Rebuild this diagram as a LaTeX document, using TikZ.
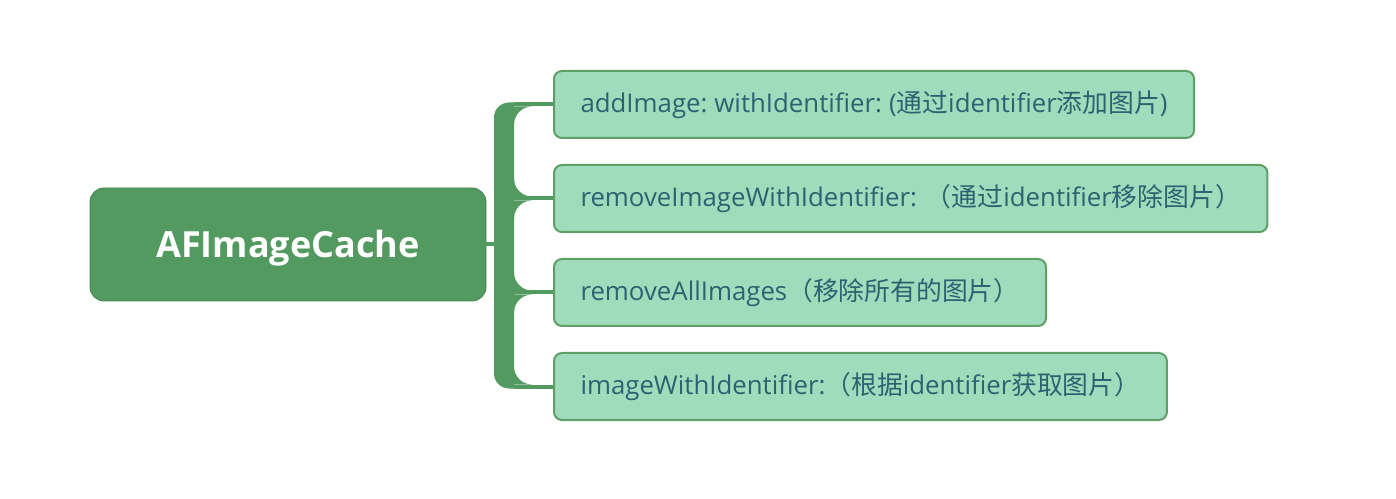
\documentclass[tikz,border=0pt]{standalone}
\usepackage{fontspec}
\setmainfont{Open Sans}
\newfontfamily\cjk{Noto Sans CJK SC}
\usetikzlibrary{calc}
\definecolor{rootgreen}{HTML}{529A5F}
\definecolor{leafgreen}{HTML}{A0DCBB}
\definecolor{leafline}{HTML}{5E9F68}
\definecolor{leaftext}{HTML}{2E6172}
\tikzset{
  rootbox/.style={fill=rootgreen, draw=rootgreen!85!black, line width=0.8pt,
    rounded corners=14pt, minimum width=396pt, minimum height=113pt,
    text height=26pt, text depth=0pt,
    text=white, font=\fontsize{36}{40}\selectfont\bfseries},
  leafbox/.style={fill=leafgreen, draw=leafline, line width=2pt,
    rounded corners=8pt, minimum height=67pt, inner xsep=26.5pt,
    anchor=west, text=leaftext, font=\fontsize{25.8}{28}\selectfont},
  branch/.style={draw=rootgreen, line width=4pt},
  trunk/.style={fill=rootgreen}
}
\begin{document}
\begin{tikzpicture}[x=1pt,y=1pt]
      \useasboundingbox (0,0) rectangle (1396,498);
      % Root
      \node[rootbox] (root) at (288,253.5) {AFImageCache};
      % Methods
      \node[leafbox] (c1) at (553,393.5) {addImage:\hspace{-2pt} withIdentifier:\hspace{-2pt} ({\cjk 通过}identifier{\cjk 添加图片})};
      \node[leafbox] (c2) at (553,299.5) {removeImageWithIdentifier: {\cjk （通过}identifier{\cjk 移除图片）}};
      \node[leafbox] (c3) at (553,205.5) {removeAllImages{\cjk （移除所有的图片）}};
      \node[leafbox] (c4) at (553,111.5) {imageWithIdentifier:{\cjk （根据}identifier{\cjk 获取图片）}};
      % Trunk
      \coordinate (barL) at (494,0);
      \coordinate (barR) at (514,0);
      \fill[trunk] ($(c1.west -| barR)+(0,2)$) [rounded corners=15pt]
        -- ($(c1.west -| barL)+(0,2)$) -- ($(c4.west -| barL)+(0,-2)$)
        [sharp corners] -- ($(c4.west -| barR)+(0,-2)$) -- cycle;
      \draw[branch] (root.east) -- (root.east -| barL);
      % Branches with fillets
      \def\r{18}
      \foreach \i in {1,2,3,4} {
        \draw[branch] (c\i.west -| barR) -- (c\i.west);
      }
      \foreach \i in {1,2,3} {
        \fill[trunk] ($(c\i.west -| barR)+(0,-2)$) -- ++(\r,0)
          arc[start angle=90, end angle=180, radius=\r] -- cycle;
      }
      \foreach \i in {2,3,4} {
        \fill[trunk] ($(c\i.west -| barR)+(0,2)$) -- ++(\r,0)
          arc[start angle=270, end angle=180, radius=\r] -- cycle;
      }
    \end{tikzpicture}
\end{document}
